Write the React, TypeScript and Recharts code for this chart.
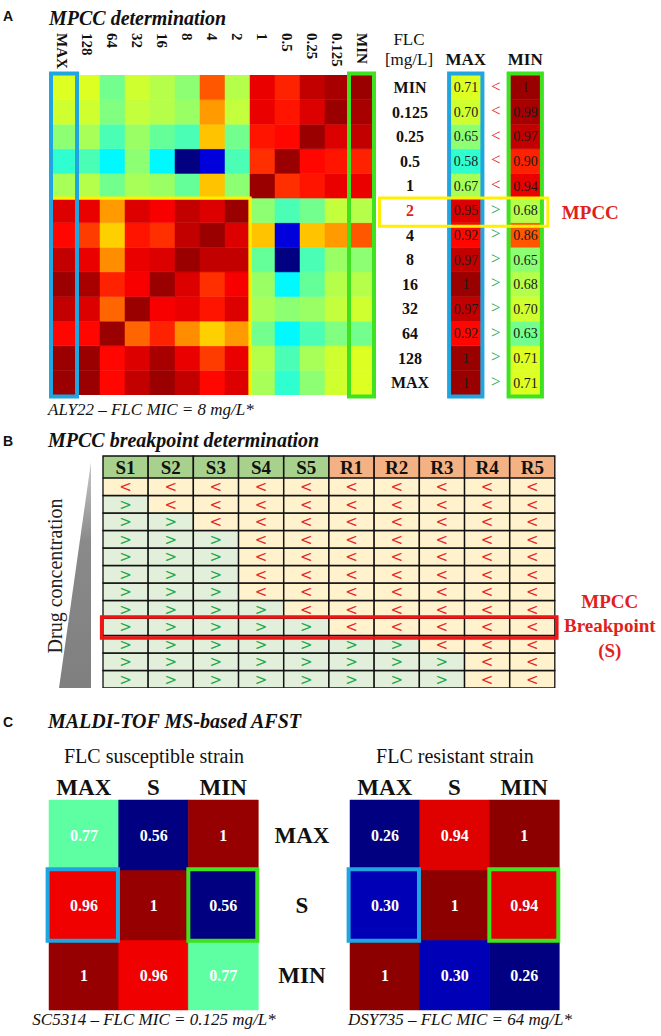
import React from "react";
import { BarChart, Bar, Cell, XAxis, YAxis, LabelList, ReferenceArea } from "recharts";

const SERIF = '"Liberation Serif", "Times New Roman", serif';
const SANS = '"Liberation Sans", Arial, sans-serif';
const TXT_RED = "#e11f1b";
const BOX_BLUE = "#1fa5df";
const BOX_GREEN = "#3fe21e";
const BOX_YELLOW = "#fff000";
const BOX_RED = "#f01515";
const LT_RED = "#e8262a";
const GT_GREEN = "#22a84a";
const LT_BG = "#fff2cc";
const GT_BG = "#e2efda";
const HEAD_S = "#a9d18e";
const HEAD_R = "#f4b183";

// ---- A: MPCC determination (ALY22) ----
const flcLevels = ["MIN", "0.125", "0.25", "0.5", "1", "2", "4", "8", "16", "32", "64", "128", "MAX"];
const mpccLevel = "2";
// correlation between spectra, rows/cols in flcLevels order
const flcCorrelation = [
  [1.0, 0.99, 0.97, 0.9, 0.94, 0.68, 0.86, 0.65, 0.68, 0.7, 0.63, 0.71, 0.71],
  [0.99, 1.0, 0.95, 0.91, 0.94, 0.69, 0.81, 0.66, 0.68, 0.69, 0.64, 0.7, 0.7],
  [0.97, 0.95, 1.0, 0.92, 0.91, 0.63, 0.78, 0.6, 0.62, 0.66, 0.6, 0.67, 0.65],
  [0.9, 0.91, 0.92, 1.0, 0.89, 0.6, 0.33, 0.26, 0.54, 0.65, 0.54, 0.6, 0.58],
  [0.94, 0.94, 0.91, 0.89, 1.0, 0.65, 0.78, 0.62, 0.66, 0.67, 0.63, 0.68, 0.67],
  [0.68, 0.69, 0.63, 0.6, 0.65, 1.0, 0.95, 0.97, 0.93, 0.95, 0.81, 0.94, 0.95],
  [0.86, 0.81, 0.78, 0.33, 0.78, 0.95, 1.0, 0.97, 0.89, 0.91, 0.77, 0.88, 0.92],
  [0.65, 0.66, 0.6, 0.26, 0.62, 0.97, 0.97, 1.0, 0.95, 0.94, 0.82, 0.94, 0.97],
  [0.68, 0.68, 0.62, 0.54, 0.66, 0.93, 0.89, 0.95, 1.0, 0.93, 0.9, 0.99, 1.0],
  [0.7, 0.69, 0.66, 0.65, 0.67, 0.95, 0.91, 0.94, 0.93, 1.0, 0.85, 0.95, 0.97],
  [0.63, 0.64, 0.6, 0.54, 0.63, 0.81, 0.77, 0.82, 0.9, 0.85, 1.0, 0.92, 0.92],
  [0.71, 0.7, 0.67, 0.6, 0.68, 0.94, 0.88, 0.94, 0.99, 0.95, 0.92, 1.0, 1.0],
  [0.71, 0.7, 0.65, 0.58, 0.67, 0.95, 0.92, 0.97, 1.0, 0.97, 0.92, 1.0, 1.0],
];

// ---- B: MPCC breakpoint ----
const strains = ["S1", "S2", "S3", "S4", "S5", "R1", "R2", "R3", "R4", "R5"];
const comparisonRows = [
  "<<<<<<<<<<",
  "><<<<<<<<<",
  ">><<<<<<<<",
  ">>><<<<<<<",
  ">>><<<<<<<",
  ">>><<<<<<<",
  ">>><<<<<<<",
  ">>>><<<<<<",
  ">>>>><<<<<",
  ">>>>>>><<<",
  ">>>>>>>><<",
  ">>>>>>>><<",
];
const breakpointRow = 8;

// ---- C: MALDI-TOF MS-based AFST ----
const afstLevels = ["MAX", "S", "MIN"];
const susceptibleCorr = [
  [0.77, 0.56, 1],
  [0.96, 1, 0.56],
  [1, 0.96, 0.77],
];
const resistantCorr = [
  [0.26, 0.94, 1],
  [0.3, 1, 0.94],
  [1, 0.3, 0.26],
];

function jet(t: number): string {
  const c = (u: number) => Math.round(255 * Math.max(0, Math.min(1, u)));
  const x = Math.max(0, Math.min(1, t));
  return `rgb(${c(1.5 - Math.abs(4 * x - 3))},${c(1.5 - Math.abs(4 * x - 2))},${c(1.5 - Math.abs(4 * x - 1))})`;
}
const fmt = (v: number) => (v === 1 ? "1" : v.toFixed(2));
const bottomFirst = (n: number) => Array.from({ length: n }, (_, i) => n - 1 - i);

function stackRows(labels: string[], nRows: number) {
  return labels.map((label, j) => {
    const row: any = { col: label, pos: j + 0.5 };
    for (let i = 0; i < nRows; i++) row[`r${i}`] = 1;
    return row;
  });
}

// transparent chart on top of a heatmap, so boxes and lines are drawn above the cells
function Overlay({ width, height, margin, data, xMax, yMax, children }: any) {
  return (
    <div style={{ position: "absolute", left: 0, top: 0, pointerEvents: "none" }}>
      <BarChart width={width} height={height} data={data} margin={margin}>
        <XAxis xAxisId="n" dataKey="pos" type="number" domain={[0, xMax]} hide allowDataOverflow />
        <YAxis type="number" domain={[0, yMax]} hide allowDataOverflow />
        {children}
      </BarChart>
    </div>
  );
}

const N = flcLevels.length;
const heatCols = [...flcLevels].reverse();
const heatData = stackRows(heatCols, N);
const aMin = Math.min(...flcCorrelation.flat());
const aColor = (v: number) => jet((v - aMin) / (1.02 - aMin));
const mpccEdge = N - flcLevels.indexOf(mpccLevel);
const maxColumn = flcCorrelation.map((r) => r[N - 1]);
const minColumn = flcCorrelation.map((r) => r[0]);

const ColTick = ({ x, y, payload }: any) => (
  <text transform={`translate(${x},${y - 42}) rotate(90)`} dy="0.35em" textAnchor="start"
    fontFamily={SERIF} fontWeight="bold" fontSize={15} fill="#111">{payload.value}</text>
);

function HeatmapA() {
  const hw = 0.065; // half thickness of the yellow edge, in cell units
  return (
    <>
      <BarChart width={345} height={380} data={heatData} margin={{ top: 8, right: 10, bottom: 10, left: 10 }} barCategoryGap={0}>
        <XAxis dataKey="col" orientation="top" height={42} axisLine={false} tickLine={false} tickSize={0} tickMargin={0} interval={0} tick={(p: any) => <ColTick {...p} />} />
        <YAxis type="number" domain={[0, N]} hide allowDataOverflow />
        {bottomFirst(N).map((i) => (
          <Bar key={i} dataKey={`r${i}`} stackId="m" isAnimationActive={false}>
            {heatCols.map((_, j) => {
              const f = aColor(flcCorrelation[i][N - 1 - j]);
              return <Cell key={j} fill={f} stroke={f} strokeWidth={0.5} />;
            })}
          </Bar>
        ))}
      </BarChart>
      <Overlay width={345} height={380} margin={{ top: 50, right: 10, bottom: 10, left: 10 }} data={heatData} xMax={N} yMax={N}>
        <ReferenceArea xAxisId="n" x1={0.1} x2={mpccEdge + hw} y1={mpccEdge - hw} y2={mpccEdge + hw} fill={BOX_YELLOW} fillOpacity={1} stroke="none" ifOverflow="visible" />
        <ReferenceArea xAxisId="n" x1={mpccEdge - hw} x2={mpccEdge + hw} y1={-0.02} y2={mpccEdge} fill={BOX_YELLOW} fillOpacity={1} stroke="none" ifOverflow="visible" />
        <ReferenceArea xAxisId="n" x1={0.04} x2={1.08} y1={-0.06} y2={N + 0.06} fill="none" stroke={BOX_BLUE} strokeWidth={4} ifOverflow="visible" />
        <ReferenceArea xAxisId="n" x1={N - 1.04} x2={N - 0.04} y1={-0.06} y2={N + 0.06} fill="none" stroke={BOX_GREEN} strokeWidth={4} ifOverflow="visible" />
      </Overlay>
    </>
  );
}

const FlcTick = ({ x, y, payload }: any) => {
  const label = flcLevels[N - 1 - Math.floor(payload.value)];
  return (
    <text x={x - 26} y={y} dy="0.35em" textAnchor="middle" fontFamily={SERIF} fontWeight="bold" fontSize={16}
      fill={label === mpccLevel ? TXT_RED : "#111"}>{label}</text>
  );
};

const HeadTick = ({ x, y, payload }: any) => (
  <text x={x} y={y - 10} textAnchor="middle" fontFamily={SERIF} fontWeight="bold" fontSize={17} fill="#111">{payload.value}</text>
);

const sideLabel = (i: number) => (props: any) => {
  const vb = props.viewBox ?? props;
  const idx = props.index;
  const cy = vb.y + vb.height / 2;
  const less = maxColumn[i] < minColumn[i];
  return (
    <g>
      <text x={vb.x + vb.width / 2} y={cy} dy="0.35em" textAnchor="middle" fontFamily={SERIF} fontSize={14} fill="#1a1a1a">
        {fmt(idx === 0 ? maxColumn[i] : minColumn[i])}
      </text>
      {idx === 0 && (
        <text x={vb.x + vb.width * 1.5} y={cy} dy="0.25em" textAnchor="middle" fontFamily={SERIF} fontSize={17} fill={less ? LT_RED : GT_GREEN}>
          {less ? "<" : ">"}
        </text>
      )}
    </g>
  );
};

function SideColumns() {
  const data = stackRows(["MAX", "MIN"], N);
  return (
    <>
      <BarChart width={263} height={360} data={data} margin={{ top: 5, right: 80, bottom: 5, left: 4 }} barCategoryGap="25%">
        <XAxis dataKey="col" orientation="top" height={30} axisLine={false} tickLine={false} tickSize={0} tickMargin={0} interval={0} tick={(p: any) => <HeadTick {...p} />} />
        <YAxis type="number" domain={[0, N]} ticks={flcLevels.map((_, i) => i + 0.5)} interval={0} width={60} axisLine={false} tickLine={false} tickSize={0} tickMargin={0} tick={(p: any) => <FlcTick {...p} />} />
        {bottomFirst(N).map((i) => (
          <Bar key={i} dataKey={`r${i}`} stackId="s" isAnimationActive={false}>
            <Cell fill={aColor(maxColumn[i])} stroke={aColor(maxColumn[i])} strokeWidth={0.5} />
            <Cell fill={aColor(minColumn[i])} stroke={aColor(minColumn[i])} strokeWidth={0.5} />
            <LabelList content={sideLabel(i)} />
          </Bar>
        ))}
      </BarChart>
      <Overlay width={263} height={360} margin={{ top: 35, right: 80, bottom: 5, left: 64 }} data={data} xMax={2} yMax={N}>
        <ReferenceArea xAxisId="n" x1={0.22} x2={0.78} y1={-0.06} y2={N + 0.06} fill="none" stroke={BOX_BLUE} strokeWidth={4} ifOverflow="visible" />
        <ReferenceArea xAxisId="n" x1={1.22} x2={1.78} y1={-0.06} y2={N + 0.06} fill="none" stroke={BOX_GREEN} strokeWidth={4} ifOverflow="visible" />
        <ReferenceArea xAxisId="n" x1={-0.95} x2={1.88} y1={mpccEdge - 1.14} y2={mpccEdge} fill="none" stroke={BOX_YELLOW} strokeWidth={3} ifOverflow="visible"
          label={(p: any) => (
            <text x={p.viewBox.x + p.viewBox.width + 14} y={p.viewBox.y + p.viewBox.height / 2} dy="0.35em" fontFamily={SERIF} fontWeight="bold" fontSize={19} fill={TXT_RED}>MPCC</text>
          )} />
      </Overlay>
    </>
  );
}

function TableHeader() {
  const data = strains.map((s) => ({ strain: s, h: 1 }));
  return (
    <BarChart width={468} height={38} data={data} margin={{ top: 8, right: 8, bottom: 8, left: 8 }} barCategoryGap={0}>
      <XAxis dataKey="strain" hide />
      <YAxis type="number" domain={[0, 1]} hide />
      <Bar dataKey="h" isAnimationActive={false}>
        {strains.map((s) => (
          <Cell key={s} fill={s[0] === "S" ? HEAD_S : HEAD_R} stroke="#111" strokeWidth={1.4} />
        ))}
        <LabelList dataKey="strain" position="center" fill="#111" fontFamily={SERIF} fontWeight="bold" fontSize={19} />
      </Bar>
    </BarChart>
  );
}

const symbolLabel = (i: number) => (props: any) => {
  const vb = props.viewBox ?? props;
  const s = comparisonRows[i][props.index];
  return (
    <text x={vb.x + vb.width / 2} y={vb.y + vb.height / 2} dy="0.36em" textAnchor="middle" fontFamily='"DejaVu Sans", sans-serif' fontSize={15}
      fill={s === ">" ? GT_GREEN : LT_RED}>{s}</text>
  );
};

function BreakpointTable() {
  const NR = comparisonRows.length;
  const data = stackRows(strains, NR);
  const top = NR - breakpointRow;
  const margin = { top: 8, right: 104, bottom: 8, left: 8 };
  return (
    <>
      <BarChart width={564} height={226} data={data} margin={margin} barCategoryGap={0}>
        <XAxis dataKey="col" hide />
        <YAxis type="number" domain={[0, NR]} hide allowDataOverflow />
        {bottomFirst(NR).map((i) => (
          <Bar key={i} dataKey={`r${i}`} stackId="t" isAnimationActive={false}>
            {strains.map((s, j) => (
              <Cell key={s} fill={comparisonRows[i][j] === ">" ? GT_BG : LT_BG} stroke="#111" strokeWidth={1.3} />
            ))}
            <LabelList content={symbolLabel(i)} />
          </Bar>
        ))}
      </BarChart>
      <Overlay width={564} height={226} margin={margin} data={data} xMax={strains.length} yMax={NR}>
        <ReferenceArea xAxisId="n" x1={-0.03} x2={strains.length + 0.04} y1={top - 1.14} y2={top + 0.06} fill="none" stroke={BOX_RED} strokeWidth={3.5} ifOverflow="visible"
          label={(p: any) => {
            const cx = p.viewBox.x + p.viewBox.width + 53;
            const y0 = p.viewBox.y;
            return (
              <g fontFamily={SERIF} fontWeight="bold" fontSize={19} fill={TXT_RED} textAnchor="middle">
                <text x={cx} y={y0 - 9}>MPCC</text>
                <text x={cx} y={y0 + 15}>Breakpoint</text>
                <text x={cx} y={y0 + 40}>(S)</text>
              </g>
            );
          }} />
      </Overlay>
    </>
  );
}

const AfstColTick = ({ x, y, payload }: any) => (
  <text x={x} y={y - 5} textAnchor="middle" fontFamily={SERIF} fontWeight="bold" fontSize={23} fill="#111">{payload.value}</text>
);
const AfstRowTick = ({ x, y, payload }: any) => (
  <text x={x + 44} y={y} dy="0.35em" textAnchor="middle" fontFamily={SERIF} fontWeight="bold" fontSize={23} fill="#111">
    {afstLevels[2 - Math.floor(payload.value)]}
  </text>
);

function AfstHeatmap({ matrix, rowLabels }: { matrix: number[][]; rowLabels: boolean }) {
  const n = afstLevels.length;
  const data = stackRows(afstLevels, n);
  const lo = Math.min(...matrix.flat());
  const color = (v: number) => jet((v - lo) / (1.01 - lo));
  const sRow = n - 1 - afstLevels.indexOf("S");
  const width = rowLabels ? 301 : 225;
  const right = rowLabels ? 4 : 8;
  return (
    <>
      <BarChart width={width} height={248} data={data} margin={{ top: 4, right, bottom: 4, left: 8 }} barCategoryGap={0}>
        <XAxis dataKey="col" orientation="top" height={30} axisLine={false} tickLine={false} tickSize={0} tickMargin={0} interval={0} tick={(p: any) => <AfstColTick {...p} />} />
        <YAxis type="number" domain={[0, n]} orientation="right" hide={!rowLabels} width={80} ticks={[0.5, 1.5, 2.5]} interval={0}
          axisLine={false} tickLine={false} tickSize={0} tickMargin={0} tick={(p: any) => <AfstRowTick {...p} />} />
        {bottomFirst(n).map((i) => (
          <Bar key={i} dataKey={`r${i}`} stackId="c" isAnimationActive={false}>
            {afstLevels.map((l, j) => (
              <Cell key={l} fill={color(matrix[i][j])} stroke={color(matrix[i][j])} strokeWidth={0.5} />
            ))}
            <LabelList content={(p: any) => {
              const vb = p.viewBox ?? p;
              return (
                <text x={vb.x + vb.width / 2} y={vb.y + vb.height / 2} dy="0.35em" textAnchor="middle" fontFamily={SERIF} fontWeight="bold" fontSize={16} fill="#fff">
                  {fmt(matrix[i][p.index])}
                </text>
              );
            }} />
          </Bar>
        ))}
      </BarChart>
      <Overlay width={width} height={248} margin={{ top: 34, right: right + (rowLabels ? 80 : 0), bottom: 4, left: 8 }} data={data} xMax={n} yMax={n}>
        <ReferenceArea xAxisId="n" x1={-0.02} x2={0.99} y1={sRow - 0.01} y2={sRow + 1.01} fill="none" stroke={BOX_BLUE} strokeWidth={4} ifOverflow="visible" />
        <ReferenceArea xAxisId="n" x1={n - 1} x2={n - 0.01} y1={sRow - 0.01} y2={sRow + 1.01} fill="none" stroke={BOX_GREEN} strokeWidth={4} ifOverflow="visible" />
      </Overlay>
    </>
  );
}

const Place = ({ left, top, children }: any) => (
  <div style={{ position: "absolute", left, top }}>{children}</div>
);

export default function App() {
  return (
    <div style={{ position: "absolute", left: 0, top: 0, width: 661, height: 1036, background: "#fff", overflow: "hidden" }}>
      <svg width={661} height={1036} style={{ position: "absolute", left: 0, top: 0 }}>
        <defs>
          <linearGradient id="wedge" x1="0" y1="0" x2="0" y2="1">
            <stop offset="0" stopColor="#c8c8c8" />
            <stop offset="0.35" stopColor="#8a8a8a" />
            <stop offset="1" stopColor="#7f7f7f" />
          </linearGradient>
        </defs>
        <g fontFamily={SANS} fontWeight="bold" fontSize={14} fill="#111">
          <text x={3} y={21}>A</text>
          <text x={3} y={446}>B</text>
          <text x={3} y={727}>C</text>
        </g>
        <g fontFamily={SERIF} fontWeight="bold" fontStyle="italic" fontSize={20} fill="#111">
          <text x={49} y={25}>MPCC determination</text>
          <text x={48} y={447}>MPCC breakpoint determination</text>
          <text x={48} y={728}>MALDI-TOF MS-based AFST</text>
        </g>
        <g fontFamily={SERIF} fontSize={17} fill="#111" textAnchor="middle">
          <text x={409} y={45}>FLC</text>
          <text x={409} y={65}>[mg/L]</text>
        </g>
        <g fontFamily={SERIF} fontStyle="italic" fontSize={17} fill="#111">
          <text x={48} y={415}>ALY22 – FLC MIC = 8 mg/L*</text>
          <text x={154} y={1025} textAnchor="middle">SC5314 – FLC MIC = 0.125 mg/L*</text>
          <text x={460} y={1025} textAnchor="middle">DSY735 – FLC MIC = 64 mg/L*</text>
        </g>
        <polygon points="91,462 91,688 59,688" fill="url(#wedge)" />
        <text transform="translate(62,576) rotate(-90)" textAnchor="middle" fontFamily={SERIF} fontSize={20} fill="#222">Drug concentration</text>
        <g fontFamily={SERIF} fontSize={20} fill="#111" textAnchor="middle">
          <text x={154} y={763}>FLC susceptible strain</text>
          <text x={455} y={763}>FLC resistant strain</text>
        </g>
      </svg>
      <Place left={40} top={25}><HeatmapA /></Place>
      <Place left={372} top={40}><SideColumns /></Place>
      <Place left={95} top={448}><TableHeader /></Place>
      <Place left={95} top={470}><BreakpointTable /></Place>
      <Place left={41} top={766}><AfstHeatmap matrix={susceptibleCorr} rowLabels={true} /></Place>
      <Place left={342} top={766}><AfstHeatmap matrix={resistantCorr} rowLabels={false} /></Place>
    </div>
  );
}
